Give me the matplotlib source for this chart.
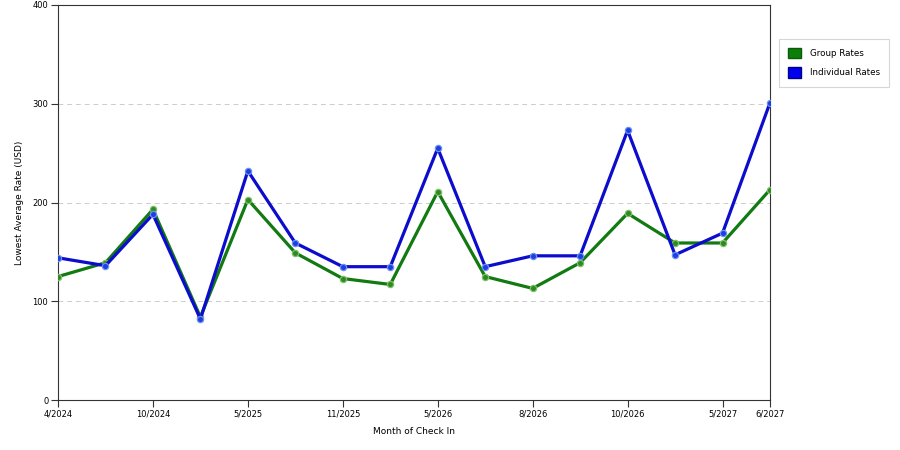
import matplotlib
matplotlib.use("Agg")
import matplotlib.pyplot as plt
from matplotlib.patches import Patch

months = ["4/2024", "7/2024", "10/2024", "1/2025", "5/2025", "8/2025", "11/2025", "2/2026",
          "5/2026", "7/2026", "8/2026", "9/2026", "10/2026", "3/2027", "5/2027", "6/2027"]
tick_labels = ["4/2024", "", "10/2024", "", "5/2025", "", "11/2025", "",
               "5/2026", "", "8/2026", "", "10/2026", "", "5/2027", "6/2027"]
group_rates = [125, 139, 193, 84, 203, 149, 123, 117, 211, 125, 113, 139, 189, 159, 159, 213]
individual_rates = [144, 136, 188, 82, 232, 159, 135, 135, 255, 135, 146, 146, 273, 147, 169, 301]

green = "#117a11"
blue = "#0c0ccc"

fig = plt.figure(figsize=(9, 4.5), dpi=100)
ax = fig.add_axes([58/900, 50/450, 712/900, 395/450])

x = list(range(len(months)))
ax.plot(x, group_rates, color=green, lw=2.3, marker='o', ms=4.5,
        mfc="#2f8a1f", mec="#7cc06a", mew=0.9, zorder=3, solid_joinstyle='round')
ax.plot(x, individual_rates, color=blue, lw=2.3, marker='o', ms=4.5,
        mfc="#1a40e0", mec="#6f8ff2", mew=0.9, zorder=4, solid_joinstyle='round')

ax.set_xlim(0, len(months) - 1)
ax.set_ylim(0, 400)
ax.set_yticks([0, 100, 200, 300, 400])
ax.set_xticks([i for i, t in enumerate(tick_labels) if t])
ax.set_xticklabels([t for t in tick_labels if t])
ax.tick_params(labelsize=6, length=5, width=0.8, color="#333333", pad=2)
for s in ax.spines.values():
    s.set_color("#333333")
    s.set_linewidth(0.8)
for yv in [100, 200, 300]:
    ax.axhline(yv, color="#cccccc", lw=0.7, ls=(0, (5, 4)), zorder=1)

ax.set_xlabel("Month of Check In", fontsize=6.5, labelpad=6)
ax.set_ylabel("Lowest Average Rate (USD)", fontsize=6.5, labelpad=6)

handles = [Patch(facecolor="#0a800a", edgecolor="#0a5a0a", label="Group Rates"),
           Patch(facecolor="#0000ee", edgecolor="#00008a", label="Individual Rates")]
leg = fig.legend(handles=handles, loc="upper left", bbox_to_anchor=(779/900, 1 - 39/450),
                 fontsize=6.3, frameon=True, fancybox=False, handlelength=1.5, handleheight=1.5,
                 borderpad=1.0, labelspacing=1.0, handletextpad=1.0, borderaxespad=0)
leg.get_frame().set_edgecolor("#cccccc")
leg.get_frame().set_linewidth(0.8)

fig.savefig("out.png", dpi=100)
